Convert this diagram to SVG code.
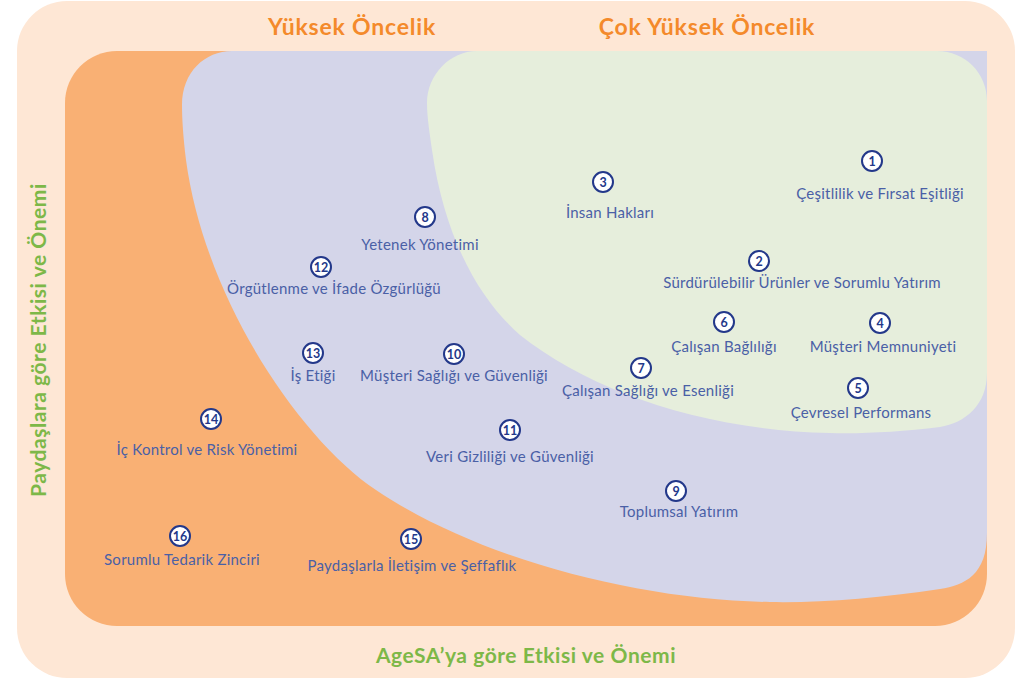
<svg xmlns="http://www.w3.org/2000/svg" width="1024" height="680" viewBox="0 0 1024 680">
<style>
.title{font-family:Lato,"Noto Sans","Liberation Sans",sans-serif;font-weight:700;font-size:23px;letter-spacing:0.8px;fill:#F48A2B;text-anchor:middle}
.axis{font-family:Lato,"Noto Sans","Liberation Sans",sans-serif;font-weight:700;font-size:21px;letter-spacing:0.55px;fill:#7DB848;text-anchor:middle}
.lbl{font-family:Lato,"Noto Sans","Liberation Sans",sans-serif;font-size:15px;letter-spacing:0.25px;fill:#4A60A6;text-anchor:middle}
.num{font-family:Lato,"Noto Sans","Liberation Sans",sans-serif;font-weight:700;font-size:12.5px;fill:#23388A;text-anchor:middle}
.badge{fill:#FFFFFF;stroke:#23388A;stroke-width:2}
</style>
<rect x="0" y="0" width="1024" height="680" fill="#FFFFFF"/>
<g id="zones">
<rect id="outer" x="17" y="1" width="998" height="677" rx="50" fill="#FEE7D5"/>
<rect id="orange" x="65" y="51" width="922" height="575" rx="52" fill="#F9B074"/>
<path id="lavender" d="M232,51 L987,51 L987,533 C987,575 965,585 940,589 C880,598 820,603 770,602 C640,600 480,560 376,490 C300,439 205,300 186,160 C183,135 182,118 182,105 C182,72 205,51 232,51 Z" fill="#D4D5E9"/>
<path id="green" d="M477,51 L937,51 C965,51 987,73 987,101 L987,373 C987,405 965,423 940,427 C900,432 860,434 830,433 C700,430 590,390 520,335 C480,300 445,240 432,150 C430,135 427,118 427,103 C427,75 450,51 477,51 Z" fill="#E6EEDC"/>
</g>
<g id="titles">
<text class="title" x="352" y="35">Yüksek Öncelik</text>
<text class="title" x="707" y="35">Çok Yüksek Öncelik</text>
<text class="axis" transform="translate(46,340) rotate(-90)" x="0" y="0">Paydaşlara göre Etkisi ve Önemi</text>
<text class="axis" x="526" y="663">AgeSA’ya göre Etkisi ve Önemi</text>
</g>
<g id="node1"><circle class="badge" cx="872" cy="161" r="10"/><text class="num" x="872" y="165.5">1</text><text class="lbl" x="880" y="199">Çeşitlilik ve Fırsat Eşitliği</text></g>
<g id="node2"><circle class="badge" cx="759" cy="261" r="10"/><text class="num" x="759" y="265.5">2</text><text class="lbl" x="802" y="288">Sürdürülebilir Ürünler ve Sorumlu Yatırım</text></g>
<g id="node3"><circle class="badge" cx="603" cy="182" r="10"/><text class="num" x="603" y="186.5">3</text><text class="lbl" x="610" y="218">İnsan Hakları</text></g>
<g id="node4"><circle class="badge" cx="880" cy="323" r="10"/><text class="num" x="880" y="327.5">4</text><text class="lbl" x="883" y="352">Müşteri Memnuniyeti</text></g>
<g id="node5"><circle class="badge" cx="858" cy="388" r="10"/><text class="num" x="858" y="392.5">5</text><text class="lbl" x="861" y="418">Çevresel Performans</text></g>
<g id="node6"><circle class="badge" cx="724" cy="322" r="10"/><text class="num" x="724" y="326.5">6</text><text class="lbl" x="724" y="352">Çalışan Bağlılığı</text></g>
<g id="node7"><circle class="badge" cx="641" cy="368" r="10"/><text class="num" x="641" y="372.5">7</text><text class="lbl" x="648" y="396">Çalışan Sağlığı ve Esenliği</text></g>
<g id="node8"><circle class="badge" cx="425" cy="217" r="10"/><text class="num" x="425" y="221.5">8</text><text class="lbl" x="420" y="250">Yetenek Yönetimi</text></g>
<g id="node9"><circle class="badge" cx="676" cy="491" r="10"/><text class="num" x="676" y="495.5">9</text><text class="lbl" x="679" y="517">Toplumsal Yatırım</text></g>
<g id="node10"><circle class="badge" cx="454" cy="354" r="10"/><text class="num" x="454" y="358.5">10</text><text class="lbl" x="454" y="381">Müşteri Sağlığı ve Güvenliği</text></g>
<g id="node11"><circle class="badge" cx="510" cy="430" r="10"/><text class="num" x="510" y="434.5">11</text><text class="lbl" x="510" y="462">Veri Gizliliği ve Güvenliği</text></g>
<g id="node12"><circle class="badge" cx="321" cy="267" r="10"/><text class="num" x="321" y="271.5">12</text><text class="lbl" x="334" y="294">Örgütlenme ve İfade Özgürlüğü</text></g>
<g id="node13"><circle class="badge" cx="313" cy="353" r="10"/><text class="num" x="313" y="357.5">13</text><text class="lbl" x="313" y="381">İş Etiği</text></g>
<g id="node14"><circle class="badge" cx="211" cy="419" r="10"/><text class="num" x="211" y="423.5">14</text><text class="lbl" x="207" y="455">İç Kontrol ve Risk Yönetimi</text></g>
<g id="node15"><circle class="badge" cx="411" cy="539" r="10"/><text class="num" x="411" y="543.5">15</text><text class="lbl" x="412" y="571">Paydaşlarla İletişim ve Şeffaflık</text></g>
<g id="node16"><circle class="badge" cx="180" cy="536" r="10"/><text class="num" x="180" y="540.5">16</text><text class="lbl" x="182" y="565">Sorumlu Tedarik Zinciri</text></g>
</svg>
